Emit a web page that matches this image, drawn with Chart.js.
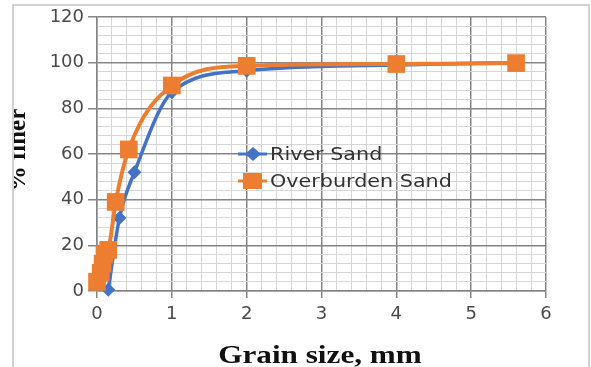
<!DOCTYPE html>
<html>
<head>
<meta charset="utf-8">
<script src="https://cdn.jsdelivr.net/npm/chart.js@4.4.0/dist/chart.umd.min.js"></script>
<style>
  html, body { margin: 0; padding: 0; background: #fff; }
  #chart1 { display: block; }
</style>
</head>
<body>
<canvas id="chart1" width="591" height="367"></canvas>
<script>
// values
const seriesNames = ['River Sand', 'Overburden Sand'];
const riverX = [0.15, 0.3, 0.5, 1, 2, 4, 5.6];
const riverY = [0.5, 32, 52, 87, 96.5, 99, 100];
const overX = [0, 0.05, 0.075, 0.1, 0.15, 0.25, 0.425, 1, 2, 4, 5.6];
const overY = [4, 8, 12, 16, 18, 39, 62, 90, 98.6, 99.4, 99.8];
const xTicks = [0, 1, 2, 3, 4, 5, 6];
const yTicks = [0, 20, 40, 60, 80, 100, 120];
const xTitle = 'Grain size, mm';
const yTitle = '% finer';

const blue = '#4472C4';
const orange = '#ED7D31';
const major = '#858585';
const minor = '#d6d6d6';

const toPoints = (xs, ys) => xs.map((x, i) => ({ x: x, y: ys[i] }));
const isMajor = (v, list) => list.some(t => Math.abs(t - v) < 1e-6);

// legend, axis titles and the outer frame
const extras = {
  id: 'extras',
  beforeDraw(chart) {
    const ctx = chart.ctx;
    ctx.save();
    ctx.fillStyle = '#fff';
    ctx.fillRect(0, 0, chart.width, chart.height);
    ctx.restore();
  },
  afterDraw(chart) {
    const ctx = chart.ctx;
    ctx.save();

    // legend inside the plot
    const items = [
      { name: seriesNames[0], color: blue, y: 154, style: 'diamond' },
      { name: seriesNames[1], color: orange, y: 181, style: 'square' }
    ];
    items.forEach(it => {
      ctx.strokeStyle = it.color;
      ctx.lineWidth = 3;
      ctx.beginPath();
      ctx.moveTo(238, it.y);
      ctx.lineTo(267, it.y);
      ctx.stroke();
      ctx.fillStyle = it.color;
      if (it.style === 'diamond') {
        ctx.beginPath();
        ctx.moveTo(253, it.y - 7);
        ctx.lineTo(261, it.y);
        ctx.lineTo(253, it.y + 7);
        ctx.lineTo(245, it.y);
        ctx.closePath();
        ctx.fill();
      } else {
        ctx.fillRect(243, it.y - 8, 19, 16);
      }
      ctx.save();
      ctx.translate(270, it.y);
      ctx.scale(1.15, 1);
      ctx.fillStyle = '#333';
      ctx.font = '18px "DejaVu Sans"';
      ctx.textBaseline = 'middle';
      ctx.fillText(it.name, 0, 1);
      ctx.restore();
    });

    // x title
    ctx.save();
    ctx.translate(320, 363);
    ctx.scale(1.2, 1);
    ctx.fillStyle = '#111';
    ctx.font = 'bold 26px "Liberation Serif"';
    ctx.textAlign = 'center';
    ctx.textBaseline = 'alphabetic';
    ctx.fillText(xTitle, 0, 0);
    ctx.restore();

    // y title, clipped by the frame on the left
    ctx.save();
    ctx.beginPath();
    ctx.rect(14, 0, 100, chart.height);
    ctx.clip();
    ctx.translate(25, 150);
    ctx.rotate(-Math.PI / 2);
    ctx.fillStyle = '#111';
    ctx.font = 'bold 25px "Liberation Serif"';
    ctx.textAlign = 'center';
    ctx.textBaseline = 'alphabetic';
    ctx.fillText(yTitle, 0, 0);
    ctx.restore();

    // frame of the pasted picture
    ctx.strokeStyle = '#c4c4c4';
    ctx.lineWidth = 1.5;
    ctx.strokeRect(13, 5, 576, 400);
    ctx.restore();
  }
};

new Chart(document.getElementById('chart1'), {
  type: 'scatter',
  data: {
    datasets: [{
      label: seriesNames[0],
      data: toPoints(riverX, riverY),
      showLine: true,
      borderColor: blue,
      backgroundColor: blue,
      borderWidth: 3.5,
      pointStyle: 'rectRot',
      pointRadius: 7,
      pointBorderWidth: 0,
      cubicInterpolationMode: 'monotone',
      clip: false,
      order: 1
    }, {
      label: seriesNames[1],
      data: toPoints(overX, overY),
      showLine: true,
      borderColor: orange,
      backgroundColor: orange,
      borderWidth: 4,
      pointStyle: 'rect',
      pointRadius: 12.5,
      pointBorderWidth: 0,
      cubicInterpolationMode: 'monotone',
      clip: false,
      order: 0
    }]
  },
  options: {
    responsive: false,
    animation: false,
    layout: { padding: { left: 30, right: 45, top: 17, bottom: 0 } },
    plugins: {
      legend: { display: false },
      tooltip: { enabled: false }
    },
    scales: {
      x: {
        type: 'linear',
        min: 0,
        max: 6,
        afterFit: s => { s.height = 76; },
        ticks: {
          stepSize: 0.2,
          autoSkip: false,
          maxRotation: 0,
          padding: 6,
          color: '#4a4a4a',
          font: { family: 'DejaVu Sans', size: 18 },
          callback: v => isMajor(v, xTicks) ? String(Math.round(v)) : ''
        },
        grid: {
          tickLength: 7,
          color: c => isMajor(c.tick.value, xTicks) ? major : minor,
          lineWidth: c => isMajor(c.tick.value, xTicks) ? 1.5 : 1,
          tickColor: c => isMajor(c.tick.value, xTicks) ? major : 'rgba(0,0,0,0)'
        },
        border: { color: major, width: 1.5 }
      },
      y: {
        min: 0,
        max: 120,
        afterFit: s => { s.width = 67; },
        ticks: {
          stepSize: 4,
          autoSkip: false,
          padding: 4,
          color: '#4a4a4a',
          font: { family: 'DejaVu Sans', size: 18 },
          callback: v => isMajor(v, yTicks) ? String(Math.round(v)) : ''
        },
        grid: {
          tickLength: 9,
          color: c => isMajor(c.tick.value, yTicks) ? major : minor,
          lineWidth: c => isMajor(c.tick.value, yTicks) ? 1.5 : 1,
          tickColor: c => isMajor(c.tick.value, yTicks) ? major : 'rgba(0,0,0,0)'
        },
        border: { color: major, width: 1.5 }
      }
    }
  },
  plugins: [extras]
});
</script>
</body>
</html>
